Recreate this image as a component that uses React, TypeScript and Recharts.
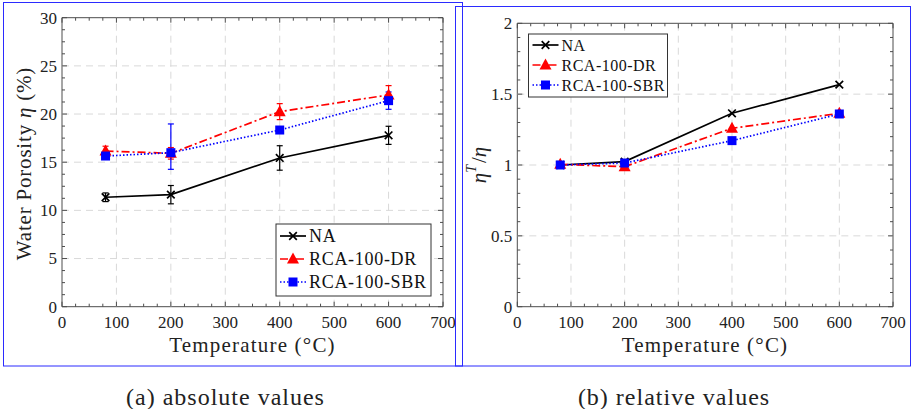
import { LineChart, Line, XAxis, YAxis, ErrorBar, ReferenceLine, ReferenceArea } from 'recharts'

const temps = [80, 200, 400, 600]

// (a) absolute values, water porosity in %
const naAbs = [11.36, 11.63, 15.44, 17.79]
const naAbsErr = [[0.45, 0.45], [0.95, 0.95], [1.27, 1.27], [0.94, 0.94]]
const drAbs = [16.16, 15.92, 20.25, 21.98]
const drAbsErr = [[0.5, 0.5], [0.6, 0.6], [0.83, 0.83], [0.97, 0.97]]
const sbrAbs = [15.64, 15.99, 18.34, 21.39]
const sbrAbsErr = [[0.2, 0.2], [1.73, 2.98], [0.3, 0.3], [0.9, 0.9]]

// (b) relative values, eta^T / eta
const naRel = [1.0, 1.024, 1.365, 1.567]
const drRel = [1.005, 0.988, 1.259, 1.365]
const sbrRel = [1.0, 1.014, 1.172, 1.36]

const xMajor = [0, 100, 200, 300, 400, 500, 600, 700]
const yMajorAbs = [0, 5, 10, 15, 20, 25, 30]
const yMajorRel = [0, 0.5, 1, 1.5, 2]

const seriesNames = ['NA', 'RCA-100-DR', 'RCA-100-SBR']

const FONT = '"Liberation Serif", "DejaVu Serif", serif'
const FRAME = '#4d4d4d'
const GRID = '#d9d9d9'
const BLUE_FRAME = '#2b2bff'

// split each major interval into n parts for the minor ticks
function subdivide(major: number[], n: number) {
  const out: number[] = []
  for (let i = 0; i < major.length - 1; i++) {
    const step = (major[i + 1] - major[i]) / n
    for (let k = 0; k < n; k++) out.push(+(major[i] + k * step).toFixed(4))
  }
  out.push(major[major.length - 1])
  return out
}

const isMajor = (v: number, major: number[]) => major.some((m) => Math.abs(m - v) < 1e-6)

const lineStyles = [
  { stroke: '#000000', dash: undefined },
  { stroke: '#ff0000', dash: '8 3 2 3' },
  { stroke: '#0000ff', dash: '1.5 2' },
]

function Marker({ kind, cx, cy }: { kind: number; cx: number; cy: number }) {
  if (kind === 0) {
    const s = 3.8
    return (
      <path
        d={`M${cx - s},${cy - s}L${cx + s},${cy + s}M${cx - s},${cy + s}L${cx + s},${cy - s}`}
        stroke="#000"
        strokeWidth={1.7}
        fill="none"
      />
    )
  }
  if (kind === 1) {
    return <polygon points={`${cx},${cy - 6.5} ${cx - 6},${cy + 4.5} ${cx + 6},${cy + 4.5}`} fill="#ff0000" />
  }
  return <rect x={cx - 4.5} y={cy - 4.5} width={9} height={9} fill="#0000ff" />
}

interface PanelProps {
  rows: any[]
  yMajor: number[]
  ySub: number
  withErr: boolean
  width: number
  height: number
  margin: { top: number; right: number; bottom: number; left: number }
}

function Panel({ rows, yMajor, ySub, withErr, width, height, margin }: PanelProps) {
  const yAxisW = 40
  const xAxisH = 25
  const plotW = width - margin.left - margin.right - yAxisW
  const plotH = height - margin.top - margin.bottom - xAxisH
  const yTop = yMajor[yMajor.length - 1]
  const xTicks = subdivide(xMajor, 4)
  const yTicks = subdivide(yMajor, ySub)

  const XTick = (p: any) => {
    const v = p.payload.value
    const major = isMajor(v, xMajor)
    const len = major ? 5 : 3
    return (
      <g>
        <line x1={p.x} y1={p.y} x2={p.x} y2={p.y - len} stroke={FRAME} />
        <line x1={p.x} y1={p.y - plotH} x2={p.x} y2={p.y - plotH + len} stroke={FRAME} />
        {major && (
          <text x={p.x} y={p.y + 21} textAnchor="middle" fontFamily={FONT} fontSize={17} fill="#222">
            {v}
          </text>
        )}
      </g>
    )
  }

  const YTick = (p: any) => {
    const v = p.payload.value
    const major = isMajor(v, yMajor)
    const len = major ? 5 : 3
    return (
      <g>
        <line x1={p.x} y1={p.y} x2={p.x + len} y2={p.y} stroke={FRAME} />
        <line x1={p.x + plotW} y1={p.y} x2={p.x + plotW - len} y2={p.y} stroke={FRAME} />
        {major && (
          <text x={p.x - 5} y={p.y} dy="0.35em" textAnchor="end" fontFamily={FONT} fontSize={17} fill="#222">
            {v}
          </text>
        )}
      </g>
    )
  }

  const keys = ['na', 'dr', 'sbr']

  return (
    <LineChart width={width} height={height} data={rows} margin={margin}>
      <XAxis
        dataKey="t"
        type="number"
        domain={[0, 700]}
        ticks={xTicks}
        interval={0}
        tick={XTick}
        tickLine={false}
        tickSize={0}
        tickMargin={0}
        axisLine={false}
        height={xAxisH}
      />
      <YAxis
        type="number"
        domain={[0, yTop]}
        ticks={yTicks}
        interval={0}
        tick={YTick}
        tickLine={false}
        tickSize={0}
        tickMargin={0}
        axisLine={false}
        width={yAxisW}
      />
      {xMajor.slice(1, -1).map((v) => (
        <ReferenceLine key={'gx' + v} x={v} stroke={GRID} strokeDasharray="7 5" />
      ))}
      {yMajor.slice(1, -1).map((v) => (
        <ReferenceLine key={'gy' + v} y={v} stroke={GRID} strokeDasharray="7 5" />
      ))}
      <ReferenceArea x1={0} x2={700} y1={0} y2={yTop} fill="none" stroke={FRAME} strokeWidth={1} />
      {keys.map((k, i) => (
        <Line
          key={k}
          dataKey={k}
          stroke={lineStyles[i].stroke}
          strokeDasharray={lineStyles[i].dash}
          strokeWidth={1.7}
          isAnimationActive={false}
          dot={(p: any) => <Marker key={k + p.index} kind={i} cx={p.cx} cy={p.cy} />}
        >
          {withErr && (
            <ErrorBar dataKey={k + 'Err'} direction="y" width={3} stroke={lineStyles[i].stroke} strokeWidth={1.2} />
          )}
        </Line>
      ))}
    </LineChart>
  )
}

function LegendBox({ x, y, w, h, rowY, fontSize, spacing }: any) {
  return (
    <g>
      <rect x={x} y={y} width={w} height={h} fill="#fff" stroke="#333" strokeWidth={1} />
      {seriesNames.map((name, i) => {
        const cy = y + rowY[i]
        return (
          <g key={name}>
            <line
              x1={x + 4}
              y1={cy}
              x2={x + 30}
              y2={cy}
              stroke={lineStyles[i].stroke}
              strokeDasharray={lineStyles[i].dash}
              strokeWidth={1.7}
            />
            <Marker kind={i} cx={x + 17} cy={cy} />
            <text
              x={x + 33}
              y={cy}
              dy="0.35em"
              fontFamily={FONT}
              fontSize={fontSize}
              letterSpacing={spacing}
              fill="#111"
            >
              {name}
            </text>
          </g>
        )
      })}
    </g>
  )
}

export default function App() {
  const absRows = temps.map((t, i) => ({
    t,
    na: naAbs[i],
    naErr: naAbsErr[i],
    dr: drAbs[i],
    drErr: drAbsErr[i],
    sbr: sbrAbs[i],
    sbrErr: sbrAbsErr[i],
  }))
  const relRows = temps.map((t, i) => ({ t, na: naRel[i], dr: drRel[i], sbr: sbrRel[i] }))

  return (
    <div style={{ position: 'absolute', left: 0, top: 0, width: 912, height: 409, background: '#fff' }}>
      <div style={{ position: 'absolute', left: 0, top: 0 }}>
        <Panel
          rows={absRows}
          yMajor={yMajorAbs}
          ySub={4}
          withErr
          width={460}
          height={340}
          margin={{ top: 17.7, right: 17, bottom: 8.3, left: 22 }}
        />
      </div>
      <div style={{ position: 'absolute', left: 455, top: 0 }}>
        <Panel
          rows={relRows}
          yMajor={yMajorRel}
          ySub={5}
          withErr={false}
          width={457}
          height={340}
          margin={{ top: 23.3, right: 19, bottom: 8.3, left: 22.3 }}
        />
      </div>
      <svg
        width={912}
        height={409}
        style={{ position: 'absolute', left: 0, top: 0, pointerEvents: 'none' }}
      >
        <rect x={3.5} y={2.5} width={459} height={363.5} fill="none" stroke={BLUE_FRAME} strokeWidth={1} />
        <rect x={455.5} y={6.5} width={455} height={359.5} fill="none" stroke={BLUE_FRAME} strokeWidth={1} />

        <LegendBox x={276} y={224} w={155} h={72} rowY={[12, 35, 58]} fontSize={18} spacing={0.7} />
        <LegendBox x={528.5} y={34} w={139} h={63} rowY={[11, 31, 51]} fontSize={16} spacing={0.5} />

        <text
          transform="translate(24,163.5) rotate(-90)"
          textAnchor="middle"
          dominantBaseline="central"
          fontFamily={FONT}
          fontSize={21}
          letterSpacing={0.8}
          fill="#222"
        >
          Water Porosity <tspan fontStyle="italic">η</tspan> (%)
        </text>
        <text
          transform="translate(479,165) rotate(-90)"
          textAnchor="middle"
          dominantBaseline="central"
          fontFamily={FONT}
          fontSize={21}
          fill="#222"
        >
          <tspan fontStyle="italic">η</tspan>
          <tspan fontStyle="italic" fontSize={14} dy={-8}>
            T
          </tspan>
          <tspan dy={8} dx={2}>
            /
          </tspan>
          <tspan fontStyle="italic">η</tspan>
        </text>

        <text x={252.5} y={352} textAnchor="middle" fontFamily={FONT} fontSize={21} letterSpacing={1.2} fill="#222">
          Temperature (°C)
        </text>
        <text x={705} y={352} textAnchor="middle" fontFamily={FONT} fontSize={21} letterSpacing={1.2} fill="#222">
          Temperature (°C)
        </text>

        <text x={225.5} y={405} textAnchor="middle" fontFamily={FONT} fontSize={24} letterSpacing={1} fill="#222">
          (a) absolute values
        </text>
        <text x={674} y={405} textAnchor="middle" fontFamily={FONT} fontSize={24} letterSpacing={1} fill="#222">
          (b) relative values
        </text>
      </svg>
    </div>
  )
}
